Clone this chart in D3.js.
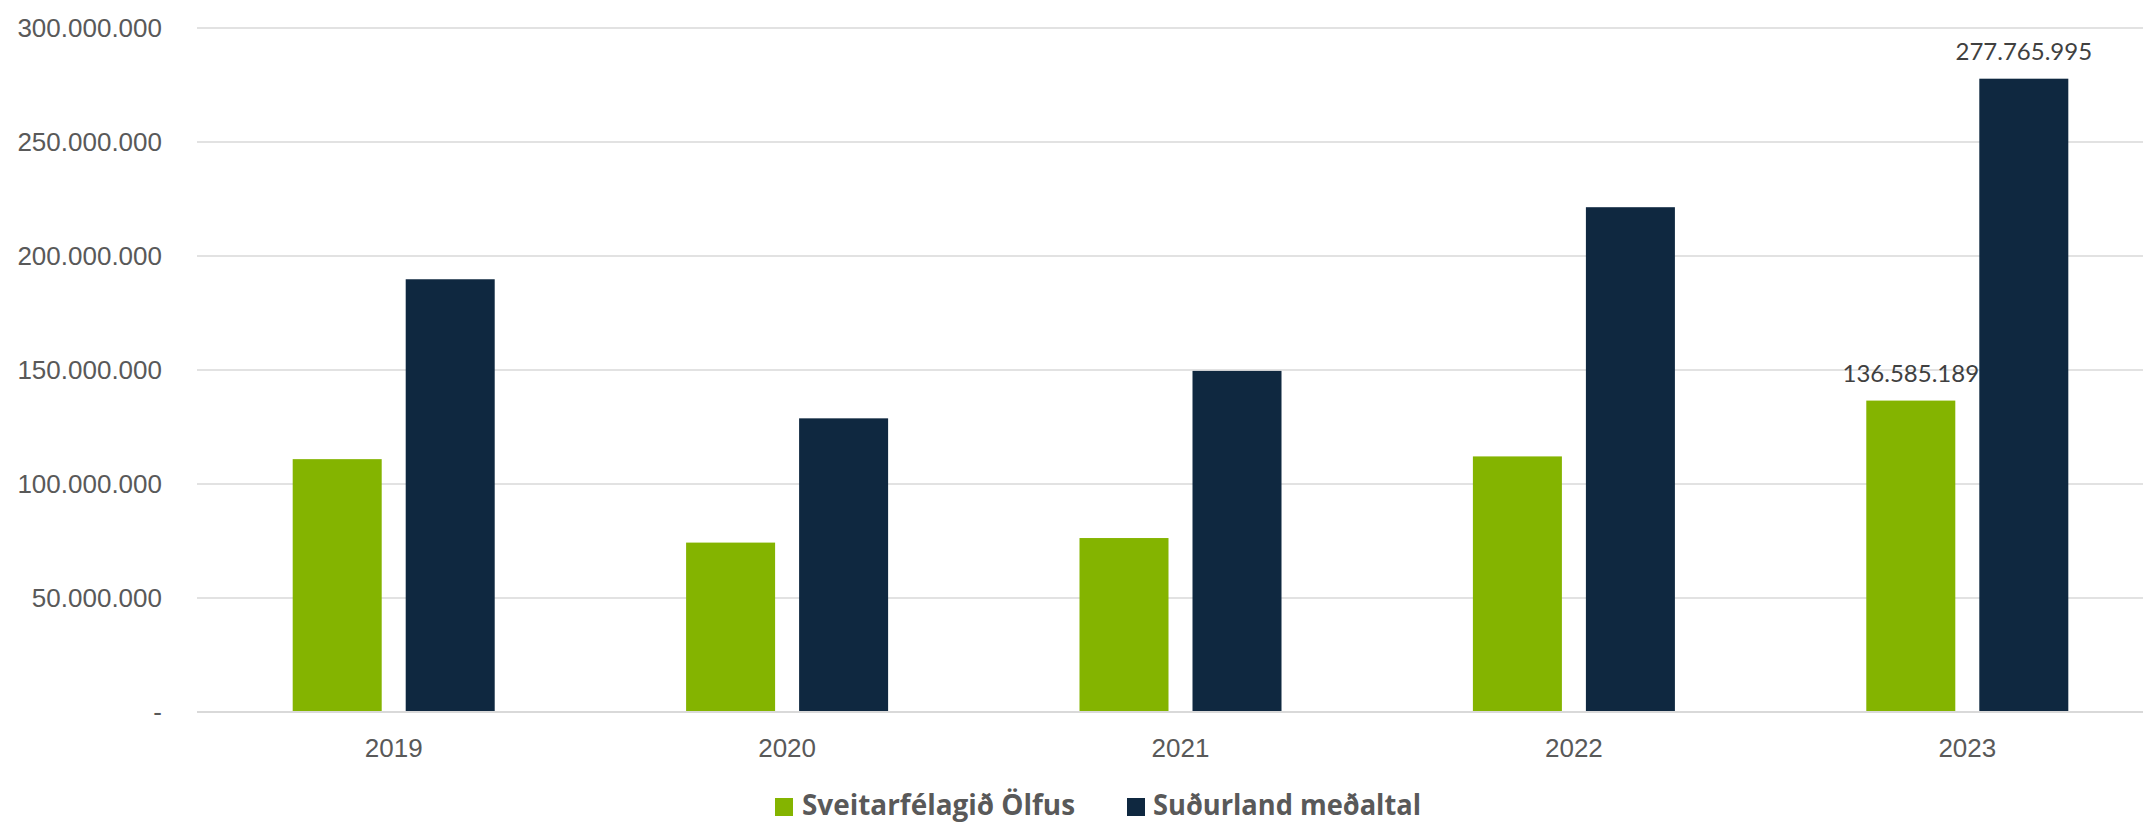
<!DOCTYPE html>
<html>
<head>
<meta charset="utf-8">
<script src="https://cdn.jsdelivr.net/npm/d3@7/dist/d3.min.js"></script>
<style>
  html, body { margin: 0; padding: 0; background: #ffffff; }
  svg { display: block; }
</style>
</head>
<body>
<svg id="chart" width="2143" height="823"></svg>
<script>
const years = ["2019", "2020", "2021", "2022", "2023"];
const seriesNames = ["Sveitarfélagið Ölfus", "Suðurland meðaltal"];
const olfus = [110900000, 74300000, 76300000, 112100000, 136585189];
const sudurland = [189800000, 128800000, 149600000, 221400000, 277765995];
const yTicks = [0, 50000000, 100000000, 150000000, 200000000, 250000000, 300000000];
const colors = ["#84b400", "#0f2840"];
const labelled = [null, null, null, null, "136.585.189"];
const labelled2 = [null, null, null, null, "277.765.995"];

const svg = d3.select("#chart");
const plot = { left: 197, right: 2164, top: 28, bottom: 712 };

const fmt = v => v === 0 ? "-" : d3.format(",")(v).replace(/,/g, ".");

const x0 = d3.scaleBand().domain(years).range([plot.left, plot.right]).paddingInner(0.4865).paddingOuter(0.24325);
const x1 = d3.scaleBand().domain([0, 1]).range([0, x0.bandwidth()]).paddingInner(0.2124).paddingOuter(0);
const y = d3.scaleLinear().domain([0, 300000000]).range([plot.bottom, plot.top]);

// gridlines
svg.append("g").selectAll("line").data(yTicks.filter(d => d > 0)).join("line")
  .attr("x1", plot.left).attr("x2", plot.right)
  .attr("y1", d => y(d)).attr("y2", d => y(d))
  .attr("stroke", "#d9d9d9").attr("stroke-width", 1.4);

// y axis labels
const yAxis = d3.axisLeft(y).tickValues(yTicks).tickFormat(fmt).tickSize(0).tickPadding(0);
const gy = svg.append("g").attr("transform", `translate(162,0)`).call(yAxis);
gy.select(".domain").remove();
gy.selectAll("text")
  .attr("font-family", "'Liberation Sans', Arial, sans-serif")
  .attr("font-size", 26).attr("fill", "#595959").attr("dy", "0.34em");

// bars
const data = years.map((yr, i) => ({ yr, vals: [olfus[i], sudurland[i]] }));
const groups = svg.append("g").selectAll("g").data(data).join("g")
  .attr("transform", d => `translate(${x0(d.yr)},0)`);
groups.selectAll("rect").data(d => d.vals.map((v, k) => ({ v, k }))).join("rect")
  .attr("x", d => x1(d.k)).attr("width", x1.bandwidth())
  .attr("y", d => y(d.v)).attr("height", d => y(0) - y(d.v))
  .attr("fill", d => colors[d.k]);

// zero axis line
svg.append("line").attr("x1", plot.left).attr("x2", plot.right)
  .attr("y1", y(0)).attr("y2", y(0)).attr("stroke", "#d9d9d9").attr("stroke-width", 2);

// x axis labels
const xAxis = d3.axisBottom(x0).tickSize(0).tickPadding(0);
const gx = svg.append("g").attr("transform", `translate(0,${y(0)})`).call(xAxis);
gx.select(".domain").remove();
gx.selectAll("text")
  .attr("font-family", "'Liberation Sans', Arial, sans-serif")
  .attr("font-size", 26).attr("fill", "#595959").attr("y", 45).attr("dy", 0);

// data labels
const lbl = [];
years.forEach((yr, i) => {
  if (labelled[i]) lbl.push({ x: x0(yr) + x1(0) + x1.bandwidth() / 2, v: olfus[i], t: labelled[i] });
  if (labelled2[i]) lbl.push({ x: x0(yr) + x1(1) + x1.bandwidth() / 2, v: sudurland[i], t: labelled2[i] });
});
svg.append("g").selectAll("text").data(lbl).join("text")
  .attr("x", d => d.x).attr("y", d => y(d.v) - 19)
  .attr("text-anchor", "middle")
  .attr("font-family", "Lato, 'Open Sans', sans-serif")
  .attr("font-size", 24).attr("fill", "#404040")
  .text(d => d.t);

// legend
const legendItems = [
  { name: seriesNames[0], color: colors[0], sx: 775, tx: 802, w: 273 },
  { name: seriesNames[1], color: colors[1], sx: 1127, tx: 1153, w: 268 }
];
const lg = svg.append("g");
legendItems.forEach(it => {
  lg.append("rect").attr("x", it.sx).attr("y", 798).attr("width", 18).attr("height", 18).attr("fill", it.color);
  lg.append("text").attr("x", it.tx).attr("y", 815)
    .attr("font-family", "'Open Sans', 'Noto Sans', sans-serif").attr("font-weight", 700)
    .attr("font-size", 28).attr("fill", "#595959")
    .attr("textLength", it.w).attr("lengthAdjust", "spacingAndGlyphs")
    .text(it.name);
});
</script>
</body>
</html>
